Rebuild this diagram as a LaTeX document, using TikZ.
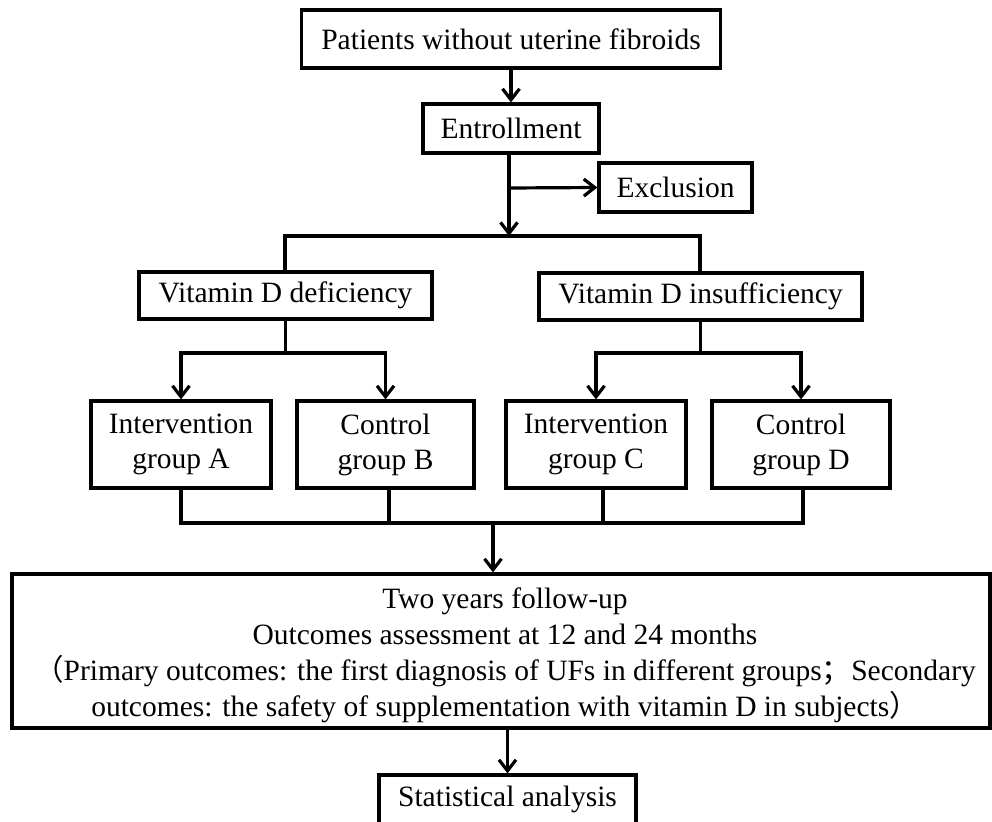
\documentclass[tikz,border=0pt]{standalone}
\usepackage{fontspec}
\setmainfont{Liberation Serif}
\newfontfamily\cjk{Noto Sans CJK SC}
\usetikzlibrary{arrows.meta}
\begin{document}
\begin{tikzpicture}[x=1pt,y=-1pt,
  box/.style={draw, line width=3.2pt, inner sep=0pt, align=center, font=\fontsize{29.5}{35}\selectfont},
  conn/.style={line width=3.2pt},
  arr/.style={conn, -{Straight Barb[length=11pt,width=17pt]}}]
\useasboundingbox (0,0) rectangle (992,821);
\clip (0,0) rectangle (992,821);
\node[box, minimum width=419pt, minimum height=58pt] (p) at (511,39) {Patients without uterine fibroids};
\node[box, minimum width=176pt, minimum height=49pt] (e) at (511,128.5) {Entrollment};
\node[box, minimum width=153pt, minimum height=49pt] (x) at (675.5,187.5) {Exclusion};
\node[box, minimum width=293pt, minimum height=47pt] (vd) at (285.5,295.5) {Vitamin D deficiency};
\node[box, minimum width=323pt, minimum height=47pt] (vi) at (700.5,296.5) {Vitamin D insufficiency};
\node[box, minimum width=180pt, minimum height=87pt] (ga) at (181,444.5) {Intervention\\group A};
\node[box, minimum width=177pt, minimum height=87pt] (gb) at (385.5,444.5) {Control\\group B};
\node[box, minimum width=180pt, minimum height=87pt] (gc) at (596,444.5) {Intervention\\group C};
\node[box, minimum width=178pt, minimum height=87pt] (gd) at (801,444.5) {Control\\group D};
\node[box, minimum width=978pt, minimum height=154pt] (f) at (501,651) {};
\node[align=center, inner sep=0pt, font=\fontsize{29.5}{36}\selectfont] (ft) at (505,655)
  {Two years follow-up\\
   Outcomes assessment at 12 and 24 months\\
   {\cjk （}Primary outcomes: the first diagnosis of UFs in different groups{\cjk ；}Secondary\\
   outcomes: the safety of supplementation with vitamin D in subjects{\cjk ）}};
\node[box, minimum width=257pt, minimum height=49pt] (s) at (507.5,799.5) {Statistical analysis};
% coordinates
\coordinate (j1) at (509,236);
\coordinate (jx) at (509,188);
\coordinate (l1) at (285,236);
\coordinate (r1) at (700,236);
\coordinate (jd) at (285.5,353);
\coordinate (ld) at (181,353);
\coordinate (rd) at (385.5,353);
\coordinate (ji) at (700.5,353);
\coordinate (li) at (596,353);
\coordinate (ri) at (801,353);
\coordinate (ba) at (181,523);
\coordinate (bb) at (389,523);
\coordinate (bc) at (603,523);
\coordinate (bd) at (803,523);
\coordinate (bm) at (493,523);
% connectors
\draw[arr] (p.south) -- (e.north);
\draw[arr] (e.south -| j1) -- (j1);
\draw[arr] (jx) -- (x.west);
\draw[conn, line cap=rect] (vd.north -| l1) -- (l1) -- (r1) -- (vi.north -| r1);
\draw[conn] (vd.south) -- (jd);
\draw[conn, line cap=rect] (ld) -- (rd);
\draw[arr] (ld) -- (ga.north);
\draw[arr] (rd) -- (gb.north);
\draw[conn] (vi.south) -- (ji);
\draw[conn, line cap=rect] (li) -- (ri);
\draw[arr] (li) -- (gc.north);
\draw[arr] (ri) -- (gd.north);
\draw[conn, line join=miter] (ga.south) -- (ba) -- (bd) -- (gd.south -| bd);
\draw[conn] (gb.south -| bb) -- (bb);
\draw[conn] (gc.south -| bc) -- (bc);
\draw[arr] (bm) -- (f.north -| bm);
\draw[arr] (f.south -| s.north) -- (s.north);
\end{tikzpicture}
\end{document}
